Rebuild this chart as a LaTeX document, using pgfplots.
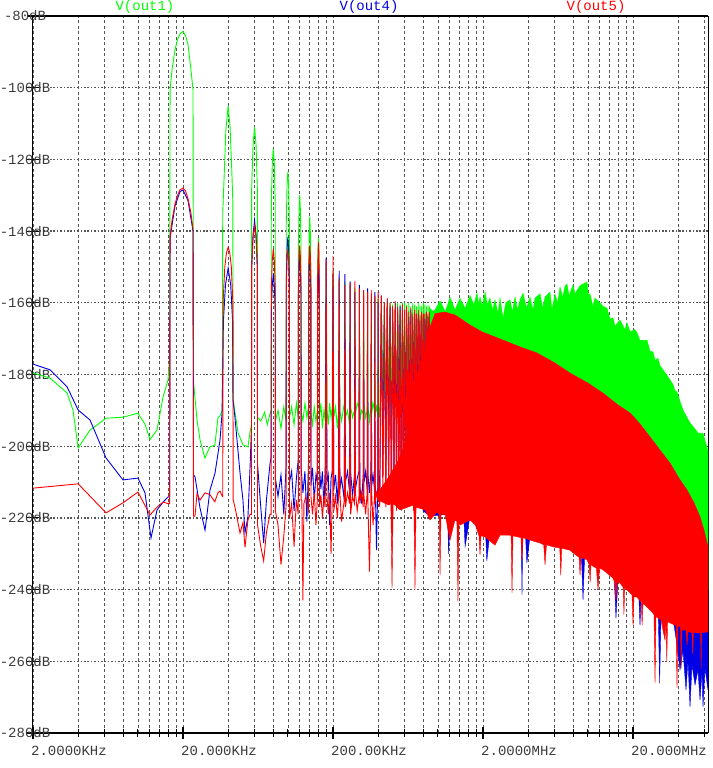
\documentclass[border=0pt]{standalone}
\usepackage{fontspec}
\setmainfont{Liberation Mono}
\usepackage{pgfplots}
\pgfplotsset{compat=1.18}
\definecolor{tgreen}{RGB}{0,255,0}
\definecolor{tblue}{RGB}{0,0,230}
\definecolor{tred}{RGB}{255,0,0}
\definecolor{gridgray}{RGB}{85,85,85}
\definecolor{labgray}{RGB}{60,60,60}
\begin{document}
\begin{tikzpicture}
\begin{axis}[
  scale only axis, width=675pt, height=717pt,
  xmode=log, xmin=1, xmax=31623, ymin=-280, ymax=-80,
  xtick={1,10,100,1000,10000},
  xticklabels={2.0000KHz,20.000KHz,200.00KHz,2.0000MHz,20.000MHz},
  minor xtick={2,3,4,5,6,7,8,9,20,30,40,50,60,70,80,90,200,300,400,500,600,700,800,900,2000,3000,4000,5000,6000,7000,8000,9000,20000,30000},
  ytick={-280,-260,...,-80},
  yticklabels={-280dB,-260dB,-240dB,-220dB,-200dB,-180dB,-160dB,-140dB,-120dB,-100dB,-80dB},
  xtick pos=bottom, ytick pos=left,
  tick align=center, major tick length=12pt, minor tick length=7pt,
  every tick/.style={black, line width=1.1pt},
  xmajorgrids, xminorgrids, ymajorgrids,
  major x grid style={gridgray, line width=0.6pt, dash pattern=on 3pt off 2.5pt},
  minor x grid style={gridgray, line width=0.6pt, dash pattern=on 3pt off 2.5pt},
  major y grid style={gridgray, line width=1.3pt, dash pattern=on 1.6pt off 1.8pt},
  separate axis lines,
  every outer x axis line/.append style={black, line width=2pt},
  every outer y axis line/.append style={black, line width=1pt},
  yticklabel style={anchor=center, inner sep=0pt, xshift=-2pt, text=labgray, font=\fontsize{14}{14}\selectfont},
  xticklabel style={anchor=north west, inner sep=0pt, xshift=-2pt, yshift=-7pt, text=labgray, font=\fontsize{14}{14}\selectfont},
]
% V(out1)
\addplot[tgreen, line width=0.9pt] coordinates {
(1,-179.6) (1.3,-181) (1.69,-185.2) (1.85,-190) (2,-200.5) (2.4,-195.5) (3.07,-192.2) (3.98,-191.9) (5.01,-190.8) (5.6,-194) (6.03,-198.1) (6.71,-195.5) (7.36,-186.3) (7.94,-181.6) (8.15,-175)
(8.2,-100.6) (8.45,-95) (8.84,-89.5) (9.2,-86.5) (9.55,-85) (10,-84.3) (10.4,-85.5) (10.8,-88) (11.3,-95) (11.66,-100.6) (11.75,-182)
(12.4,-192.7) (13,-198.3) (14,-203.3) (15.1,-200.2) (16.3,-199.7) (17.1,-192.1) (17.65,-191.5) (18.3,-190)
(18.4,-135) (18.8,-125) (19.3,-112) (20,-105) (20.6,-111) (21.1,-122) (21.5,-132) (21.6,-187)
(22.2,-190.5) (23.3,-196.3) (25.1,-199.6) (27.1,-200.2) (28,-196) (28.6,-194)
(28.7,-128) (29.3,-116) (30,-111) (30.7,-116) (31.3,-128) (31.4,-192)
(33,-193) (35,-190.5) (36.5,-194) (38,-191) (38.7,-190)
(38.8,-132) (39.4,-121) (40,-117) (40.6,-121) (41.2,-132) (41.3,-193)
(43,-190) (45,-195) (47,-189) (48.6,-193) (48.7,-192)
(48.8,-138) (49.4,-127) (50,-123.5) (50.6,-127) (51.2,-138) (51.3,-192)
(53,-189) (55,-194) (57,-188) (58.6,-192) (58.7,-191)
(58.8,-144) (59.4,-134) (60,-130) (60.6,-134) (61.2,-144) (61.3,-190)
(63,-193) (65,-188) (67,-192) (68.6,-189) (68.7,-190)
(68.8,-150) (69.4,-140) (70,-136) (70.6,-140) (71.2,-150) (71.3,-191)
(73,-194) (75,-189) (77,-193) (78.6,-190) (78.7,-190)
(78.9,-154) (79.5,-145) (80,-142) (80.5,-145) (81.1,-154) (81.3,-192)
(83,-188) (85,-195) (87,-190) (88.7,-193) (88.8,-191) (90,-149) (91.2,-190)
(93,-194) (95,-188) (97,-192) (98.8,-189) (100,-151) (101.2,-192)
(104,-189) (107,-195) (108.9,-190) (110,-153) (111.1,-190)
(114,-193) (118.9,-188) (120,-154) (121,-192) (125,-190) (129,-194) (130,-155) (131,-189)
(135,-192) (139,-190) (140,-156) (141,-191) (145,-188) (149,-189) (150,-157) (151,-193)
(155,-190) (159,-191) (160,-157) (161,-188) (165,-192) (169,-190) (170,-158) (171,-189)
(175,-193) (179,-189) (180,-158) (181,-191) (185,-188) (189,-190) (190,-158.5) (191,-192)
(195,-189) (199,-191) (200,-159) (201,-189) (205,-192)
(210,-159) (215,-190) (220,-160) (225,-193) (230,-159.5) (235,-188) (240,-160) (245,-192)
(250,-160.5) (255,-189) (260,-160) (265,-194) (270,-160) (275,-190) (280,-160.5) (285,-192)
(290,-160) (295,-188) (300,-160) (305,-191) (310,-160.5) (315,-189) (320,-160) (325,-193)
(330,-161) (335,-190) (340,-160) (345,-192) (350,-160.5) (355,-189) (360,-161) (365,-191)
(370,-160) (375,-190) (380,-160.5) (385,-192) (390,-161) (395,-190) (400,-160) (405,-191)
(410,-160.5) (415,-189) (420,-161) (425,-192) (430,-160.5) (435,-190) (440,-161)
};
\addplot[tgreen, fill=tgreen, line width=0.4pt] coordinates {
(440,-200) (440,-161.5) (470,-162.5) (517,-159.5) (560,-162.5) (603,-158.5) (650,-162) (703,-158.8)
(760,-161.5) (819,-158) (870,-160.5) (912,-157.3) (935,-160.5) (955,-158.4) (990,-161) (1031,-157)
(1070,-160.5) (1113,-158.7) (1160,-162) (1202,-159.2) (1260,-163) (1298,-158.7) (1359,-164.2)
(1420,-160) (1514,-159.2) (1570,-162.5) (1635,-158.4) (1700,-162) (1765,-159.2) (1848,-157.3)
(1950,-161.5) (2057,-158.4) (2150,-162) (2222,-158.7) (2399,-157.5) (2500,-161.5) (2591,-158.4)
(2797,-157) (2884,-162) (3020,-157.6) (3150,-160) (3262,-155.6) (3400,-158.5) (3521,-155.4)
(3631,-154.8) (3750,-158) (3981,-155) (4105,-157.5) (4434,-155.2) (4786,-154.5) (4936,-154.2)
(5050,-158) (5168,-157.5) (5400,-161) (5580,-158.7) (6026,-160) (6310,-161) (6709,-161.5)
(7025,-164.5) (7356,-164.2) (7586,-166.5) (8190,-164.8) (8844,-167.5) (9120,-165.6) (9550,-168)
(10310,-167.5) (10633,-168.4) (11134,-170.5) (12023,-170.5) (12400,-170.4) (12983,-173.5)
(13594,-173.7) (14020,-176) (14678,-175.5) (15136,-177.5) (16345,-179.5) (17652,-181.5)
(18478,-182.8) (19055,-184.5) (19652,-184.9) (20577,-187.5) (21544,-189.9) (22909,-192)
(23988,-193.5) (25119,-194.5) (27123,-196.3) (27970,-196.5) (29286,-196.3) (30200,-198.5)
(31623,-201.1) (31623,-240) (20000,-215) (10000,-200) (3000,-190) (1000,-185) (440,-200)
};
% V(out4)
\addplot[tblue, line width=0.9pt] coordinates {
(1,-177.1) (1.3,-178.7) (1.69,-183.5) (2,-189.9) (2.4,-192.7) (3.07,-203.3) (3.98,-209.4) (5.01,-208.9) (5.58,-213) (6.12,-225.6) (6.71,-217.8) (7.36,-215.6) (7.94,-214.2) (8.15,-214)
(8.2,-142) (8.84,-133) (9.55,-129) (10,-128.5) (10.8,-131.5) (11.66,-140) (11.75,-208)
(12.02,-208.5) (12.98,-217.2) (14.02,-223.4) (15.14,-212.2) (16.35,-207.5) (17.65,-198.3) (18.2,-191)
(18.4,-180) (18.6,-165) (19.2,-155) (20,-150.3) (20.8,-155) (21.4,-165) (21.54,-187)
(22.2,-192) (24,-207.5) (25.1,-215) (25.9,-224.2) (27.1,-219.7) (28,-205.8) (28.6,-195)
(28.7,-150) (29.3,-141) (30,-137) (30.7,-141) (31.3,-150) (31.4,-205)
(33,-217) (34.5,-227) (36,-215) (38,-205) (38.7,-203)
(38.8,-162) (39.4,-155) (40,-152) (40.6,-155) (41.2,-162) (41.3,-209)
(43,-214) (45,-208) (47,-219) (48.6,-206) (48.7,-205)
(48.8,-154) (49.4,-145) (50,-141.6) (50.6,-145) (51.2,-154) (51.3,-210)
(53,-207) (55,-218) (57,-209) (58.6,-204) (58.7,-204)
(58.8,-158) (59.4,-150) (60,-147) (60.6,-150) (61.2,-158) (61.3,-206)
(63,-213) (65,-207) (67,-221) (68.6,-205) (68.7,-205)
(68.8,-157) (69.4,-149) (70,-146) (70.6,-149) (71.2,-157) (71.3,-211)
(73,-206) (75,-215) (77,-208) (78.6,-210) (78.7,-209)
(78.9,-160) (79.5,-153) (80,-150) (80.5,-153) (81.1,-160) (81.3,-206)
(83,-212) (85,-207) (87,-217) (88.7,-206) (88.8,-206) (90,-147.5) (91.2,-210)
(93,-208) (95,-222) (97,-209) (98.8,-207) (100,-152) (101.2,-212)
(104,-208) (107,-216) (108.9,-207) (110,-151) (111.1,-212)
(114,-209) (118.9,-215) (120,-152) (121,-210) (125,-207) (129,-213) (130,-154) (131,-207)
(135,-214) (139,-208) (140,-157) (141,-212) (145,-209) (149,-207) (150,-155) (151,-211)
(155,-216) (159,-208) (160,-158) (161,-210) (165,-207) (169,-212) (170,-156) (171,-208)
(175,-213) (179,-207) (180,-159) (181,-211) (185,-208) (189,-212) (190,-157) (191,-209)
(195,-229) (199,-210) (200,-160) (201,-208) (205,-213)
(210,-158) (215,-208) (220,-161) (225,-212) (230,-159) (235,-207) (240,-161) (245,-215)
(250,-162) (255,-209) (260,-160) (265,-211) (270,-163) (275,-207) (280,-161) (285,-218)
(290,-163) (295,-210) (300,-162) (305,-209) (310,-162.5) (315,-213) (320,-164) (325,-208)
(330,-162) (335,-211) (340,-164) (345,-209) (350,-163) (355,-214) (360,-164.5) (365,-208)
(370,-163) (375,-212) (380,-165) (385,-209) (390,-163.5) (395,-211) (400,-164) (405,-210)
(410,-164.5) (415,-212) (420,-163.5) (425,-209) (430,-164) (435,-213) (440,-165)
};
\addplot[tblue, fill=tblue, line width=0.4pt] coordinates {
(398,-195) (1000,-190) (3000,-195) (10000,-205) (20000,-220) (31623,-240)
(31623,-268) (30200,-262) (29286,-272.7) (28840,-263) (27970,-270.8) (27123,-262.4) (25903,-266.6)
(24738,-261) (23988,-272.7) (23263,-259.6) (22558,-268) (21544,-257) (20577,-262.4) (19652,-255.5)
(18800,-250) (17652,-248) (15373,-247.5) (15050,-266.1) (14750,-247) (12983,-245) (11300,-243)
(11134,-250) (10950,-242.5) (9550,-240) (7943,-237) (7700,-248) (7500,-236.5) (6026,-233.5)
(4760,-230.5) (4642,-242.9) (4530,-230.5) (3262,-227.5) (2591,-226.5) (2057,-225) (1962,-232.6)
(1920,-224.8) (1840,-224.5) (1820,-241.5) (1800,-224.5) (1298,-223.8) (1113,-224) (1060,-232)
(1040,-224) (955,-224) (819,-219.5) (760,-228) (745,-220) (603,-220) (590,-230) (580,-219)
(443,-219.5) (398,-218)
};
% V(out5)
\addplot[tred, line width=0.9pt] coordinates {
(1,-211.7) (2,-210.5) (3.07,-218.6) (3.98,-215.8) (5.01,-212.8) (6.03,-219.2) (6.71,-217) (7.36,-215.6) (7.94,-216) (8.15,-216)
(8.2,-141.6) (8.45,-137) (8.84,-132.5) (9.2,-130) (9.55,-128.5) (10,-128) (10.4,-128.8) (10.8,-131) (11.3,-135) (11.66,-139.5) (11.75,-219.5)
(12.02,-219.5) (12.4,-213.3) (13,-215) (14.02,-213) (15.1,-213.5) (16.3,-215.5) (17.1,-213) (17.65,-212.5) (18.3,-214) (18.4,-214)
(18.5,-160) (19,-150) (19.5,-146) (20,-144.5) (20.5,-146) (21,-150) (21.5,-160) (21.6,-215)
(22.2,-217) (24,-224.2) (25.1,-221.3) (25.9,-228.2) (27.1,-220.6) (28,-219) (28.6,-219)
(28.7,-150) (29.3,-142) (30,-138.5) (30.7,-142) (31.3,-150) (31.4,-222)
(33,-228) (34.5,-232) (36,-224) (38,-219) (38.7,-219)
(38.8,-156) (39.4,-148) (40,-145) (40.6,-148) (41.2,-156) (41.3,-218)
(43,-222) (45,-233) (47,-225) (48.6,-217) (48.7,-216)
(48.8,-157) (49.4,-148) (50,-145) (50.6,-148) (51.2,-157) (51.3,-220)
(53,-216) (55,-228) (57,-215) (58.6,-219) (58.7,-218)
(58.8,-156) (59.4,-147) (60,-144) (60.6,-147) (61.2,-156) (61.3,-215)
(62,-215) (63,-243) (64,-216) (66,-214) (68.6,-218) (68.7,-217)
(68.8,-156) (69.4,-147) (70,-144) (70.6,-147) (71.2,-156) (71.3,-214)
(73,-219) (75,-213) (77,-222) (78.6,-215) (78.7,-214)
(78.9,-155) (79.5,-146) (80,-143) (80.5,-146) (81.1,-155) (81.3,-217)
(83,-213.5) (85,-220) (87,-214) (88.7,-217) (88.8,-216) (90,-148) (91.2,-214)
(93,-219) (95,-213) (97,-230) (98.8,-215) (100,-147) (101.2,-218)
(104,-214) (107,-220) (108.9,-214) (110,-153) (111.1,-213)
(114,-221) (118.9,-215) (120,-155) (121,-217) (125,-213) (129,-216) (130,-154.5) (131,-219)
(135,-214) (139,-216) (140,-154) (141,-213) (145,-218) (149,-214) (150,-156) (151,-216)
(155,-213) (159,-217) (160,-156.5) (161,-214) (165,-219) (169,-213) (170,-157) (171,-216)
(175,-235) (179,-215) (180,-156.4) (181,-213) (185,-222) (189,-214) (190,-158) (191,-216)
(195,-213) (199,-215) (200,-157) (201,-214) (205,-217)
(210,-158) (215,-215) (220,-160) (225,-217) (230,-158.6) (235,-214) (240,-160) (245,-216)
(250,-161) (255,-213) (260,-159.5) (265,-218) (270,-161) (275,-214) (280,-162) (285,-216)
(290,-160.5) (295,-213.5) (300,-162) (305,-217) (310,-161) (315,-214) (320,-162.5) (325,-216)
(330,-161.5) (335,-213) (340,-163) (345,-218) (350,-162) (355,-214) (360,-163) (365,-216)
(370,-162) (375,-213) (380,-163.5) (385,-217) (390,-162.5) (395,-214) (400,-163) (405,-216)
(410,-163) (415,-214) (420,-162.5) (425,-217) (430,-163) (435,-215) (440,-162.5)
};
\addplot[tred, fill=tred, line width=0.4pt] coordinates {
(199.5,-213) (240,-208) (280,-203) (326,-194) (380,-181) (423,-169) (479,-163)
(558,-162.6) (651,-163.4) (819,-166.2) (985,-168.1) (1359,-170.4) (1765,-172.3) (2291,-174)
(3020,-176.8) (3802,-179.6) (5012,-182.4) (6310,-185.2) (7943,-188.5) (9550,-190.7)
(11134,-193.8) (12983,-197.4) (15136,-201.1) (17652,-204.7) (20577,-209.4) (22909,-212.2)
(25509,-215.8) (27970,-219.7) (29738,-223.4) (31623,-228.1)
(31623,-251.8) (28700,-252) (28450,-262) (28200,-252) (27970,-252.1) (25300,-252) (25000,-258)
(24700,-252) (23988,-251.8) (23263,-251.8) (22909,-255.5) (22558,-251.3) (21544,-251.3)
(21200,-251) (20950,-262) (20700,-250.5) (19953,-250) (19652,-267.4) (19355,-250) (19055,-249.9)
(17652,-249.3) (17000,-249) (16800,-260) (16600,-249) (16345,-254.1) (15373,-248.5)
(14238,-247.5) (14020,-266.1) (13804,-247) (13386,-246.3) (12023,-244.3) (11650,-244)
(11500,-250) (11350,-243.5) (10633,-242.1) (10155,-242) (10000,-249.9) (9848,-241.5)
(9120,-240.1) (8800,-239.5) (8700,-247) (8600,-239.3) (8190,-238.2) (7850,-238) (7700,-243)
(7550,-238) (7356,-236.8) (6310,-234.5) (5980,-234) (5846,-240.1) (5700,-234) (5400,-233.5)
(5250,-233) (5180,-238) (5100,-233) (4936,-231.7) (4500,-231) (4434,-236) (4370,-231)
(4000,-229.8) (3802,-229) (3350,-228.5) (3300,-236) (3250,-228.4) (2950,-228.1) (2650,-227.5)
(2591,-233.1) (2540,-227.5) (2399,-227) (2057,-226.2) (1850,-225.5) (1820,-231.7) (1790,-225.5)
(1700,-225.3) (1585,-225) (1561,-240.9) (1540,-225) (1514,-224.8) (1298,-224.8) (1202,-227.6)
(1031,-225.3) (970,-225) (955,-230.3) (940,-225) (890,-222) (819,-220.6) (703,-222) (692,-221)
(681,-243.5) (670,-221) (650,-220.6) (603,-226.2) (560,-219.2) (525,-219) (517,-236) (510,-219)
(493,-218.4) (443,-220.6) (412,-217.8) (358,-217) (352,-240.1) (346,-217) (344,-216.4)
(280,-217.8) (252,-216) (247.4,-239.6) (243,-216) (235,-216.4) (199.5,-215)
};
\end{axis}
\node[text=tgreen, font=\fontsize{14}{14}\selectfont] at ([xshift=112pt,yshift=9pt]current axis.north west) {V(out1)};
\node[text=tblue, font=\fontsize{14}{14}\selectfont] at ([xshift=336pt,yshift=9pt]current axis.north west) {V(out4)};
\node[text=tred, font=\fontsize{14}{14}\selectfont] at ([xshift=563pt,yshift=9pt]current axis.north west) {V(out5)};
\pgfresetboundingbox
\path[use as bounding box] ([xshift=-33pt,yshift=-35pt]current axis.south west) rectangle ([xshift=4pt,yshift=16pt]current axis.north east);
\end{tikzpicture}
\end{document}
